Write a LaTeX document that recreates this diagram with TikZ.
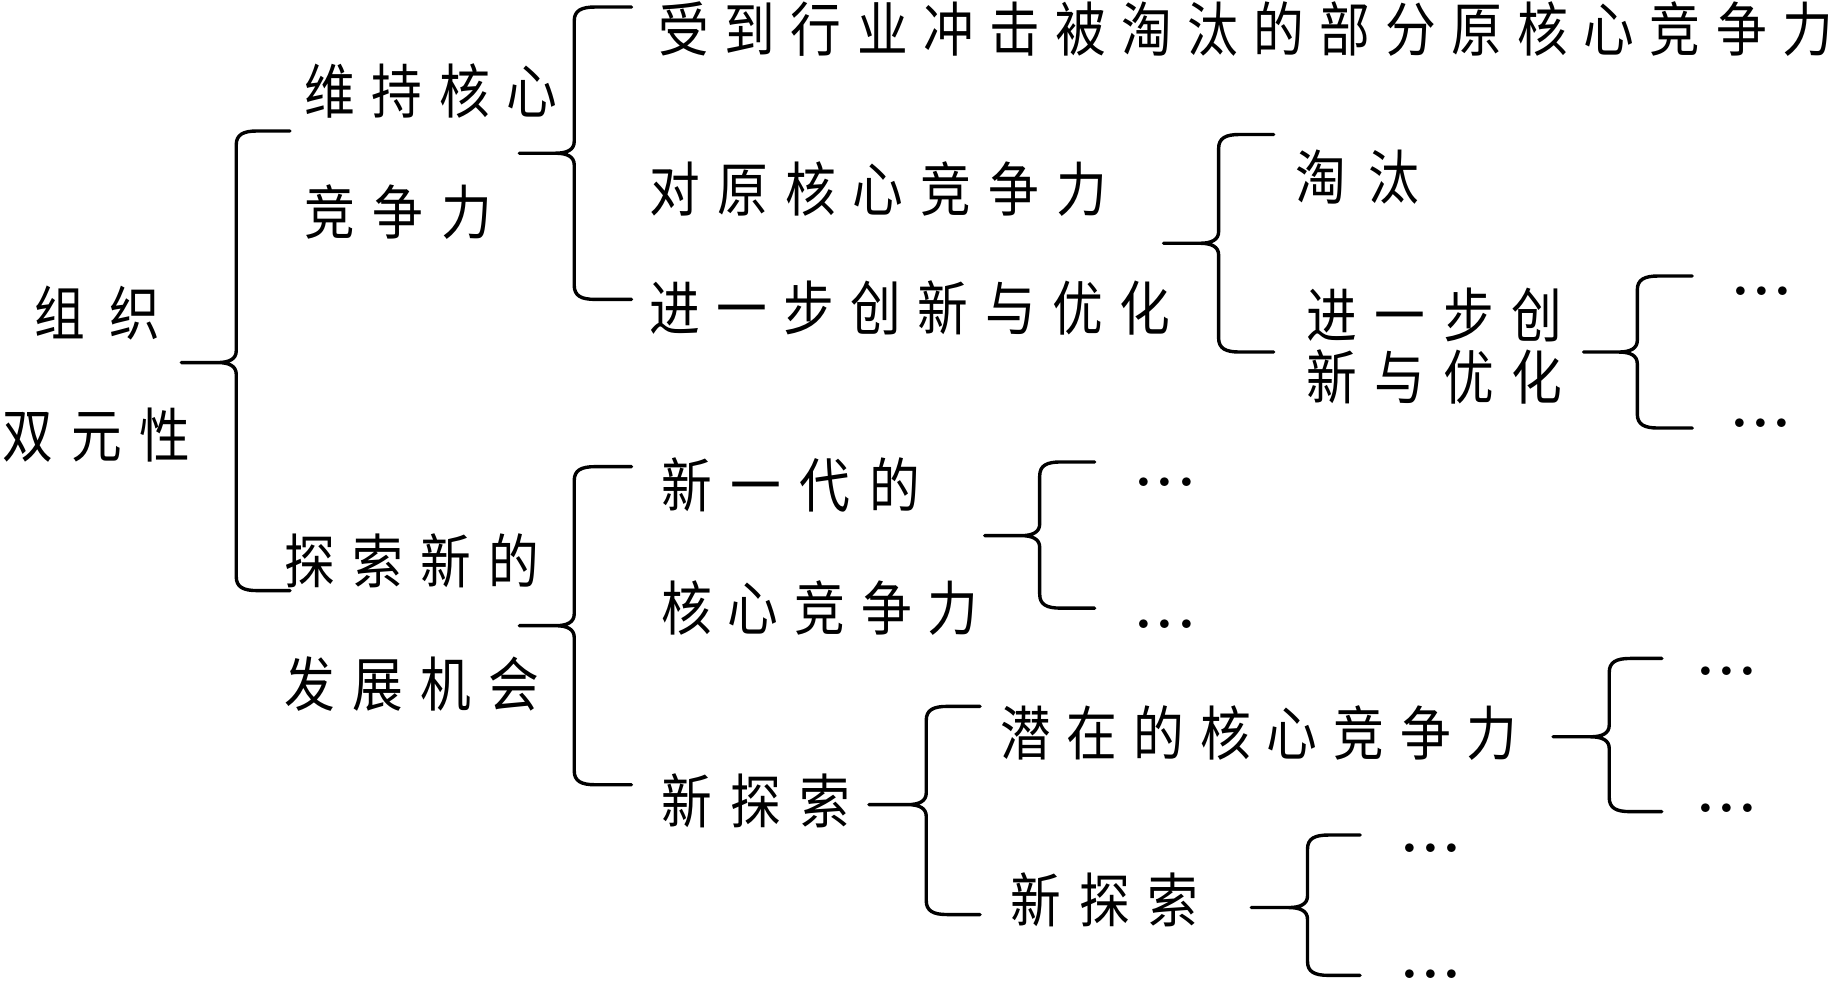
\documentclass[tikz,border=0pt]{standalone}
\usepackage{fontspec}
\newfontfamily\cjk[FakeStretch=0.86]{Noto Sans CJK SC}
\newlength\cpitch
\def\spcaux#1{\ifx\relax#1\else\makebox[\cpitch][l]{#1}\expandafter\spcaux\fi}
\newcommand\spaced[2]{\setlength\cpitch{0.58482pt}\cpitch=#1\cpitch\spcaux#2\relax}
\newcommand\threedots{.\kern1.2pt.\kern1.2pt.}
\newcommand\drawbrace[6]{%
 \draw[bracestyle] (#3,#4) -- (#2+18,#4) .. controls (#2+6,#4) and (#2,#4+3) .. (#2,#4+12)
  -- (#2,#5-10) .. controls (#2,#5-3) and (#2-6,#5) .. (#2-16,#5) -- (#1,#5)
  -- (#2-16,#5) .. controls (#2-6,#5) and (#2,#5+3) .. (#2,#5+10)
  -- (#2,#6-12) .. controls (#2,#6-3) and (#2+6,#6) .. (#2+18,#6) -- (#3,#6);}
\tikzset{
 lbl/.style={anchor=west, inner sep=0pt, font=\cjk\fontsize{29.5}{29.5}\selectfont, text height=25.5pt, text depth=3.5pt},
 dotlbl/.style={anchor=base west, inner sep=0pt, font=\fontsize{30}{30}\selectfont\bfseries},
 bracestyle/.style={line width=1.7pt, line join=round, line cap=round, black}
}
\begin{document}
\begin{tikzpicture}[x=0.58482pt, y=-0.58482pt]
\fill[white] (0,0) rectangle (1568.2,842.2);
\useasboundingbox (0,0) rectangle (1568.2,842.2);
% text
\node[lbl] (zz1) at (29,268) {\spaced{64}{组织}};
\node[lbl] (zz2) at (2,372) {\spaced{58.5}{双元性}};
\node[lbl] (wc1) at (260,78.5) {\spaced{57.7}{维持核心}};
\node[lbl] (wc2) at (260,182) {\spaced{58.5}{竞争力}};
\node[lbl] (ts1) at (243,480) {\spaced{58}{探索新的}};
\node[lbl] (ts2) at (243,585) {\spaced{58}{发展机会}};
\node[lbl] (a1) at (563,25.5) {\spaced{56.5}{受到行业冲击被淘汰的部分原核心竞争力}};
\node[lbl] (a2) at (555,162) {\spaced{58}{对原核心竞争力}};
\node[lbl] (a3) at (555,264) {\spaced{57.4}{进一步创新与优化}};
\node[lbl] (b1) at (1107,152) {\spaced{63}{淘汰}};
\node[lbl] (b2) at (1117,270) {\spaced{58.3}{进一步创}};
\node[lbl] (b3) at (1117,323) {\spaced{58.3}{新与优化}};
\node[lbl] (c1) at (565,415) {\spaced{59.3}{新一代的}};
\node[lbl] (c2) at (565,520) {\spaced{57}{核心竞争力}};
\node[lbl] (c3) at (565,685) {\spaced{59}{新探索}};
\node[lbl] (d1) at (855,627) {\spaced{57}{潜在的核心竞争力}};
\node[lbl] (d2) at (864,770) {\spaced{58.5}{新探索}};
% dots
\node[dotlbl] (e1) at (1480,252.5) {\threedots};
\node[dotlbl] (e2) at (1479,365.5) {\threedots};
\node[dotlbl] (e3) at (970,416) {\threedots};
\node[dotlbl] (e4) at (970,537.5) {\threedots};
\node[dotlbl] (e5) at (1450,577.5) {\threedots};
\node[dotlbl] (e6) at (1450,694.5) {\threedots};
\node[dotlbl] (e7) at (1197,729) {\threedots};
\node[dotlbl] (e8) at (1197,837) {\threedots};
% braces
\drawbrace{155}{202}{248}{112}{310}{505}
\drawbrace{444}{491}{540}{6}{131}{256}
\drawbrace{444}{491}{540}{399}{535}{671}
\drawbrace{995}{1042}{1089}{115}{208}{301}
\drawbrace{1354}{1400}{1447}{236}{301}{366}
\drawbrace{842}{889}{936}{395}{458}{520}
\drawbrace{743}{792}{838}{604}{688}{782}
\drawbrace{1328}{1376}{1421}{563}{630}{694}
\drawbrace{1070}{1118}{1163}{714}{776}{834}
\end{tikzpicture}
\end{document}
